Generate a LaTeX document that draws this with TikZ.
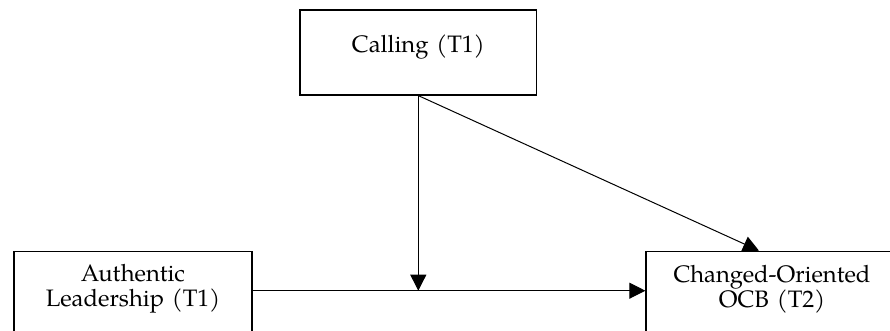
\documentclass[tikz,border=0pt]{standalone}
\usepackage{fontspec}
\setmainfont[WordSpace=0.45]{TeX Gyre Pagella}
\usetikzlibrary{arrows.meta}
\begin{document}
\begin{tikzpicture}[x=1pt,y=-1pt,
  box/.style={draw, line width=1.3pt, rectangle, inner xsep=0pt, inner ysep=0pt,
    align=center, font=\fontsize{23.8}{24.7}\selectfont},
  arr/.style={-{Triangle[length=16pt,width=16pt]}, line width=1pt}]
\useasboundingbox (0,0) rectangle (890,331);
\clip (0,0) rectangle (890,331);
\node[box, anchor=north, text width=236.7pt, text height=42.7pt, text depth=42.3pt]
  (C) at (418.3,9.3) {Calling (T1)};
\node[box, anchor=north, text width=238pt, text height=30.3pt, text depth=60pt]
  (A) at (133,250.7) {Authentic\\Leadership (T1)};
\node[box, anchor=north, text width=252pt, text height=31pt, text depth=60pt]
  (B) at (772,250.7) {Changed-Oriented\\OCB (T2)};
\coordinate (j) at (418.3,290.7);
\coordinate (dt) at (759,250.7);
\draw[arr] (C.south) -- (j);
\draw[arr] (A.east |- j) -- (B.west |- j);
\draw[arr] (C.south) -- (B.north -| dt);
\end{tikzpicture}
\end{document}
